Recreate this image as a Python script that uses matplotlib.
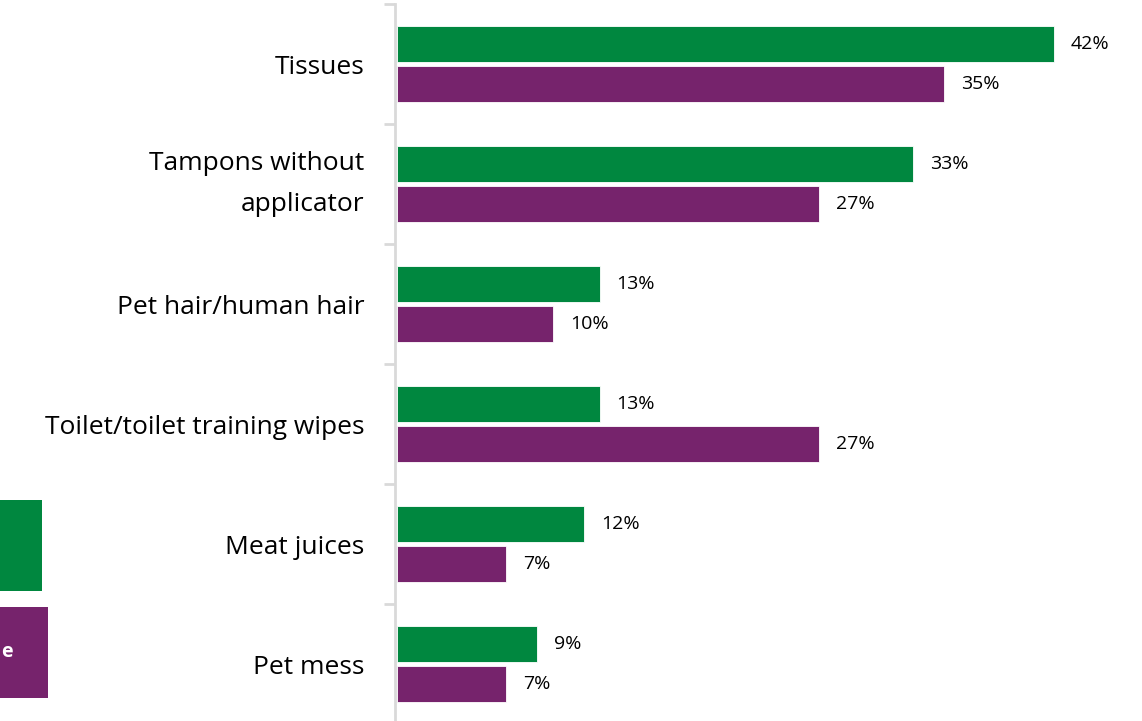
import matplotlib
matplotlib.use("Agg")
import matplotlib.pyplot as plt
import matplotlib.transforms as mtransforms
from matplotlib.patches import Rectangle
import numpy as np

categories = ["Tissues", "Tampons without\napplicator", "Pet hair/human hair",
              "Toilet/toilet training wipes", "Meat juices", "Pet mess"]
series_green = [42, 33, 13, 13, 12, 9]
series_purple = [35, 27, 10, 27, 7, 7]
legend_visible_text = "e"

GREEN = "#00873F"
PURPLE = "#76236C"
FONT = ["Open Sans", "DejaVu Sans"]
plt.rcParams['font.family'] = FONT

W, H = 1142, 721
fig = plt.figure(figsize=(W / 100, H / 100), dpi=100)
# axes in pixel coordinates
left_px, top_px, right_px, bottom_px = 395, 4, 1142, 724
ax = fig.add_axes([left_px / W, (H - bottom_px) / H, (right_px - left_px) / W, (bottom_px - top_px) / H])

n = len(categories)
y = np.arange(n)
h = 0.3
off = 0.167
ax.barh(y - off, series_green, height=h, color=GREEN, edgecolor="#ffffff", linewidth=0.6)
ax.barh(y + off, series_purple, height=h, color=PURPLE, edgecolor="#ffffff", linewidth=0.6)

ax.set_xlim(-0.1, (right_px - left_px - 2) / 15.64)
ax.set_ylim(n - 0.5, -0.5)

for yi, v in zip(y - off, series_green):
    ax.annotate(f"{v}%", (v, yi), xytext=(12, 0), textcoords="offset points",
                va="center", ha="left", fontsize=14, color="#000000")
for yi, v in zip(y + off, series_purple):
    ax.annotate(f"{v}%", (v, yi), xytext=(12, 0), textcoords="offset points",
                va="center", ha="left", fontsize=14, color="#000000")

for s in ["top", "right", "bottom"]:
    ax.spines[s].set_visible(False)
ax.spines["left"].set_color("#d9d9d9")
ax.spines["left"].set_linewidth(2)
ax.set_xticks([])
ax.set_yticks(np.arange(n + 1) - 0.5, minor=True)
ax.set_yticks(y)
labels = ax.set_yticklabels(categories, fontsize=19, linespacing=1.8)
ax.tick_params(axis="y", which="major", length=0, pad=22)
ax.tick_params(axis="y", which="minor", length=8, width=2, color="#d9d9d9")

shift = mtransforms.ScaledTranslation(0, 9 / 100, fig.dpi_scale_trans)
for lab in ax.get_yticklabels():
    if "\n" in lab.get_text():
        lab.set_va("center")

# cropped legend boxes at left edge
fig.patches.append(Rectangle((0, H - 591), 42, 91, transform=None, facecolor=GREEN, edgecolor="none"))
fig.patches.append(Rectangle((0, H - 698), 48, 91, transform=None, facecolor=PURPLE, edgecolor="none"))
fig.text(1 / W, (H - 652) / H, legend_visible_text, ha="left", va="center", fontsize=14,
         fontweight="bold", color="white")

fig.savefig("out.png", dpi=100, facecolor="white")
